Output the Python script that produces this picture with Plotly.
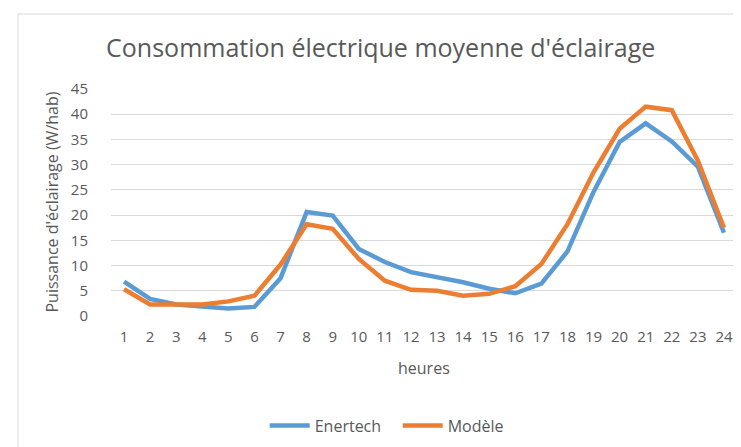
import plotly.graph_objects as go

# --- data ---
heures = list(range(1, 25))
enertech = [6.8, 3.4, 2.3, 1.8, 1.5, 1.8, 7.5, 20.6, 19.9, 13.3, 10.7, 8.7,
            7.8, 6.7, 5.4, 4.5, 6.4, 12.8, 24.6, 34.5, 38.2, 34.6, 29.6, 16.5]
modele = [5.3, 2.3, 2.3, 2.3, 2.9, 4.0, 10.2, 18.2, 17.3, 11.3, 7.0, 5.2,
          5.0, 4.0, 4.4, 5.9, 10.3, 18.2, 28.5, 37.1, 41.5, 40.8, 30.8, 17.5]
y_ticks = [0, 5, 10, 15, 20, 25, 30, 35, 40, 45]

font = "Open Sans"
gray = "#595959"

fig = go.Figure()
fig.add_trace(go.Scatter(x=heures, y=enertech, name="Enertech", mode="lines",
                         line=dict(color="#5B9BD5", width=4.5)))
fig.add_trace(go.Scatter(x=heures, y=modele, name="Modèle", mode="lines",
                         line=dict(color="#ED7D31", width=4.5)))

fig.update_layout(
    width=741, height=447,
    margin=dict(l=103, r=12, t=81, b=136),
    paper_bgcolor="white", plot_bgcolor="white",
    font=dict(family=font, color=gray, size=15),
    title=dict(text="Consommation électrique moyenne d'éclairage",
               x=0.503, xanchor="center", y=0.9105, yanchor="middle",
               font=dict(size=25, color=gray, family=font)),
    legend=dict(orientation="h", x=0.458, xanchor="center", y=-0.483, yanchor="middle",
                font=dict(size=16, color=gray), itemwidth=40, traceorder="normal",
                entrywidth=78),
    xaxis=dict(range=[0.5, 24.5], tickmode="array", tickvals=heures,
               ticktext=[str(h) for h in heures], showgrid=False, zeroline=False,
               showline=False, ticks="", ticklabelstandoff=10,
               tickfont=dict(size=15, color=gray)),
    yaxis=dict(range=[0, 45], tickmode="array", tickvals=y_ticks,
               showgrid=True, gridcolor="#D9D9D9", gridwidth=1, zeroline=False,
               showline=False, ticks="", ticklabelstandoff=22,
               tickfont=dict(size=15, color=gray)),
    annotations=[
        dict(text="heures", xref="paper", yref="paper", x=0.5, y=(311 - 364) / 230,
             showarrow=False, font=dict(size=16, color=gray), yanchor="middle"),
        dict(text="Puissance d'éclairage (W/hab)", xref="paper", yref="paper",
             x=(43 - 103) / 626, y=0.5, textangle=-90, showarrow=False,
             font=dict(size=16, color=gray), xanchor="center", yanchor="middle"),
    ],
    shapes=[
        dict(type="rect", xref="paper", yref="paper",
             x0=(10 - 103) / 626, x1=1.2, y0=-0.8, y1=(311 - 5) / 230,
             line=dict(color="#D9D9D9", width=1), fillcolor="rgba(0,0,0,0)", layer="below"),
    ],
)

fig.write_html("out.html")
